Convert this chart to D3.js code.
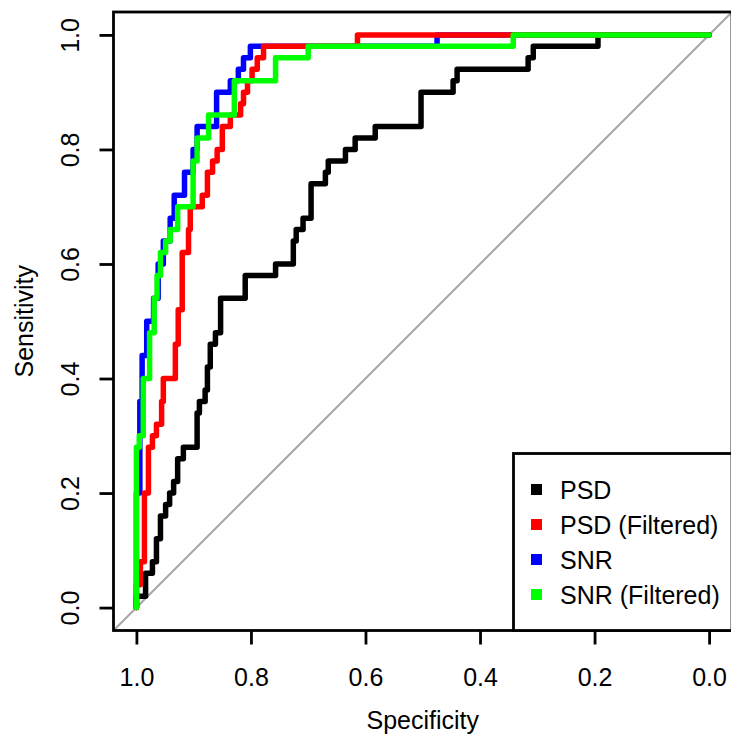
<!DOCTYPE html>
<html>
<head>
<meta charset="utf-8">
<script src="https://cdn.jsdelivr.net/npm/d3@7"></script>
<style>
  html, body { margin: 0; padding: 0; background: #fff; }
  svg { display: block; }
  text { font-family: "Liberation Sans", Arial, sans-serif; fill: #000; }
</style>
</head>
<body>
<script>
// ---- Data (specificity, sensitivity) ROC step points ----
const xTicks = [1.0, 0.8, 0.6, 0.4, 0.2, 0.0];
const yTicks = [0.0, 0.2, 0.4, 0.6, 0.8, 1.0];
const seriesNames = ["PSD", "PSD (Filtered)", "SNR", "SNR (Filtered)"];

const psd = [
  [1.000,0.00],[1.000,0.02],[0.984,0.06],[0.972,0.08],[0.965,0.12],[0.958,0.16],
  [0.949,0.18],[0.942,0.20],[0.935,0.22],[0.928,0.26],[0.918,0.28],[0.894,0.34],
  [0.890,0.36],[0.880,0.38],[0.876,0.42],[0.871,0.46],[0.862,0.48],[0.853,0.54],
  [0.810,0.58],[0.757,0.60],[0.726,0.64],[0.721,0.66],[0.709,0.68],[0.695,0.74],
  [0.670,0.76],[0.665,0.78],[0.635,0.80],[0.618,0.82],[0.583,0.84],[0.503,0.90],
  [0.447,0.92],[0.440,0.94],[0.316,0.96],[0.307,0.98],[0.194,1.00],[0.000,1.00]
];
const psdFiltered = [
  [1.000,0.00],[1.000,0.04],[0.993,0.08],[0.986,0.20],[0.979,0.28],[0.972,0.30],
  [0.965,0.32],[0.956,0.36],[0.953,0.40],[0.932,0.46],[0.927,0.52],[0.920,0.62],
  [0.909,0.66],[0.906,0.70],[0.885,0.72],[0.876,0.76],[0.867,0.78],[0.859,0.80],
  [0.850,0.84],[0.836,0.86],[0.818,0.88],[0.813,0.90],[0.806,0.92],[0.798,0.94],
  [0.789,0.96],[0.778,0.98],[0.614,1.00],[0.000,1.00]
];
const snr = [
  [1.000,0.00],[1.000,0.20],[0.994,0.36],[0.990,0.44],[0.982,0.50],[0.970,0.54],
  [0.962,0.60],[0.953,0.64],[0.941,0.68],[0.934,0.72],[0.916,0.76],[0.901,0.80],
  [0.894,0.84],[0.860,0.90],[0.836,0.92],[0.822,0.94],[0.813,0.96],[0.801,0.98],
  [0.475,1.00],[0.000,1.00]
];
const snrFiltered = [
  [1.000,0.00],[1.000,0.28],[0.995,0.30],[0.988,0.40],[0.977,0.48],[0.969,0.54],
  [0.964,0.58],[0.958,0.62],[0.949,0.64],[0.941,0.66],[0.928,0.70],[0.901,0.78],
  [0.894,0.82],[0.874,0.86],[0.829,0.92],[0.757,0.96],[0.700,0.98],[0.342,1.00],
  [0.000,1.00]
];

// ---- Styles ----
const seriesColors = ["#000000", "#FF0000", "#0000FF", "#00FF00"];
const W = 731, H = 740;
const FONT = 25;

const svg = d3.select("body").append("svg").attr("width", W).attr("height", H);

const x = d3.scaleLinear().domain([1.04, -0.04]).range([113.5, 732]);
const y = d3.scaleLinear().domain([-0.04, 1.04]).range([630.5, 12]);

svg.append("clipPath").attr("id", "plotclip")
  .append("rect").attr("x", x(1.04)).attr("y", y(1.04))
  .attr("width", x(-0.04) - x(1.04)).attr("height", y(-0.04) - y(1.04));

// diagonal reference line
svg.append("line")
  .attr("clip-path", "url(#plotclip)")
  .attr("x1", x(1.04)).attr("y1", y(-0.04))
  .attr("x2", x(-0.04)).attr("y2", y(1.04))
  .attr("stroke", "#A6A6A6").attr("stroke-width", 2);

// curves: drawn in order black, blue, red, green
const line = d3.line().x(d => x(d[0])).y(d => y(d[1])).curve(d3.curveStepAfter);
const series = [psd, psdFiltered, snr, snrFiltered];
const drawOrder = [0, 2, 1, 3];
const g = svg.append("g").attr("clip-path", "url(#plotclip)");
drawOrder.forEach(i => {
  g.append("path").datum(series[i])
    .attr("d", line)
    .attr("fill", "none")
    .attr("stroke", seriesColors[i])
    .attr("stroke-width", 5.5)
    .attr("stroke-linejoin", "round")
    .attr("stroke-linecap", "round");
});

// axes
const xAxis = svg.append("g").attr("transform", `translate(0,${y(-0.04)})`)
  .call(d3.axisBottom(x).tickValues(xTicks).tickFormat(d3.format(".1f")).tickSize(14));
xAxis.select(".domain").remove();
xAxis.selectAll("line").attr("stroke", "#000").attr("stroke-width", 2.8);
xAxis.selectAll("text").attr("y", 55).attr("dy", null)
  .style("font-size", FONT + "px").style("font-family", '"Liberation Sans", Arial, sans-serif');

const yAxis = svg.append("g").attr("transform", `translate(${x(1.04)},0)`)
  .call(d3.axisLeft(y).tickValues(yTicks).tickFormat(d3.format(".1f")).tickSize(14));
yAxis.select(".domain").remove();
yAxis.selectAll("line").attr("stroke", "#000").attr("stroke-width", 2.8);
yAxis.selectAll("text")
  .attr("x", null).attr("dy", null)
  .attr("transform", "translate(-35,0) rotate(-90)")
  .attr("text-anchor", "middle")
  .style("font-size", FONT + "px").style("font-family", '"Liberation Sans", Arial, sans-serif');

// plot box
svg.append("rect")
  .attr("x", x(1.04)).attr("y", y(1.04))
  .attr("width", x(-0.04) - x(1.04)).attr("height", y(-0.04) - y(1.04))
  .attr("fill", "none").attr("stroke", "#000").attr("stroke-width", 2.8);

// axis titles
svg.append("text")
  .attr("x", (x(1.04) + x(-0.04)) / 2).attr("y", 729)
  .attr("text-anchor", "middle").style("font-size", FONT + "px")
  .text("Specificity");
svg.append("text")
  .attr("transform", `translate(33,${(y(1.04) + y(-0.04)) / 2}) rotate(-90)`)
  .attr("text-anchor", "middle").style("font-size", FONT + "px")
  .text("Sensitivity");

// legend
const lg = svg.append("g");
lg.append("rect")
  .attr("x", 513.5).attr("y", 453.5)
  .attr("width", x(-0.04) - 513.5).attr("height", y(-0.04) - 453.5)
  .attr("fill", "#fff").attr("stroke", "#000").attr("stroke-width", 2.8);
seriesNames.forEach((name, i) => {
  const cy = 489.5 + i * 35;
  lg.append("rect").attr("x", 531).attr("y", cy - 5.5).attr("width", 11).attr("height", 11)
    .attr("fill", seriesColors[i]);
  lg.append("text").attr("x", 560).attr("y", cy + 9)
    .style("font-size", FONT + "px").text(name);
});
</script>
</body>
</html>
